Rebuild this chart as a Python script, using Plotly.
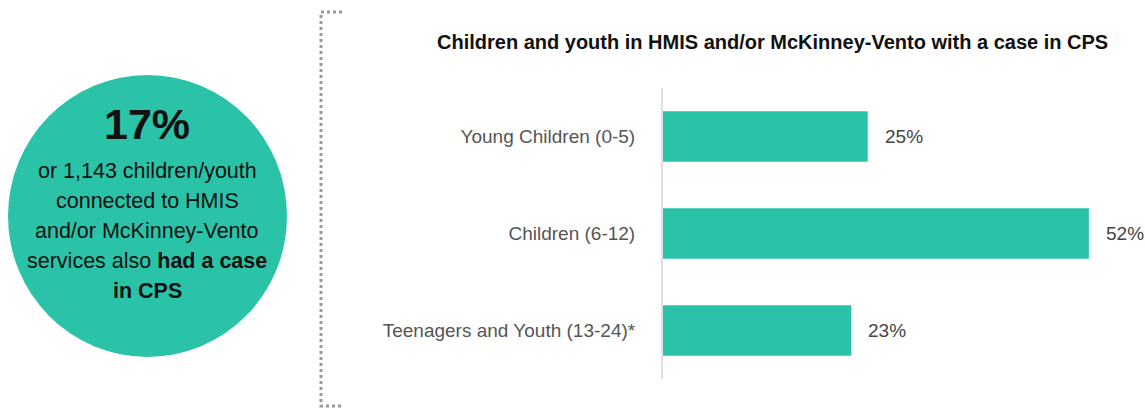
import plotly.graph_objects as go

# Age groups and share of each group with a CPS case
categories = ["Young Children (0-5)", "Children (6-12)", "Teenagers and Youth (13-24)*"]
shares = [25, 52, 23]
value_labels = ["25%", "52%", "23%"]

headline = "17%"
headline_lines = [
    "or 1,143 children/youth",
    "connected to HMIS",
    "and/or McKinney-Vento",
    "services also <b>had a case</b>",
    "<b>in CPS</b>",
]
title_text = "Children and youth in HMIS and/or McKinney-Vento with a case in CPS"

W, H = 1145, 408
TEAL = "#2AC3A8"
FONT = "Liberation Sans, Arial, sans-serif"


def px(x):
    return x / W


def py(y):
    return 1 - y / H


fig = go.Figure()
fig.add_trace(go.Bar(
    x=shares,
    y=categories,
    orientation="h",
    marker=dict(color=TEAL, line=dict(width=0)),
    width=0.52,
    hoverinfo="skip",
))

# value labels placed just past the end of each bar
for cat, v, lab in zip(categories, shares, value_labels):
    fig.add_annotation(
        x=v, y=cat, xref="x", yref="y", text=lab, showarrow=False,
        xanchor="left", yanchor="middle", xshift=15,
        font=dict(family=FONT, size=19, color="#444444"),
    )

# summary bubble on the left
fig.add_shape(
    type="circle", xref="paper", yref="paper",
    x0=px(8), x1=px(287), y0=py(357), y1=py(75),
    fillcolor=TEAL, line=dict(width=0), layer="below",
)
fig.add_annotation(
    x=px(147), y=py(124), xref="paper", yref="paper", text="<b>" + headline + "</b>",
    showarrow=False, xanchor="center", yanchor="middle",
    font=dict(family=FONT, size=43, color="#111111"),
)
for i, line in enumerate(headline_lines):
    fig.add_annotation(
        x=px(147), y=py(171 + 30 * i), xref="paper", yref="paper", text=line,
        showarrow=False, xanchor="center", yanchor="middle",
        font=dict(family=FONT, size=21.5, color="#111111"),
    )

# dotted bracket separating the bubble from the bar chart
fig.add_shape(
    type="path", xref="paper", yref="paper",
    path=f"M {px(342)} {py(12)} L {px(321)} {py(12)} L {px(321)} {py(406)} L {px(342)} {py(406)}",
    line=dict(color="#9a9a9a", width=3, dash="dot"),
)

# chart title
fig.add_annotation(
    x=px(772), y=py(42), xref="paper", yref="paper", text="<b>" + title_text + "</b>",
    showarrow=False, xanchor="center", yanchor="middle",
    font=dict(family=FONT, size=20, color="#111111"),
)

fig.update_layout(
    width=W, height=H,
    margin=dict(l=0, r=0, t=0, b=0),
    paper_bgcolor="white", plot_bgcolor="white",
    showlegend=False,
    bargap=0.48,
    xaxis=dict(
        domain=[px(663), px(1138)], range=[0, 58],
        visible=False, fixedrange=True,
    ),
    yaxis=dict(
        domain=[py(379), py(88)],
        categoryorder="array", categoryarray=categories,
        autorange="reversed",
        showline=True, linecolor="#e0e0e0", linewidth=2,
        showgrid=False, zeroline=False,
        ticks="outside", ticklen=22, tickcolor="rgba(0,0,0,0)",
        tickfont=dict(family=FONT, size=19, color="#555555"),
        fixedrange=True,
    ),
)

fig.write_html("out.html")
